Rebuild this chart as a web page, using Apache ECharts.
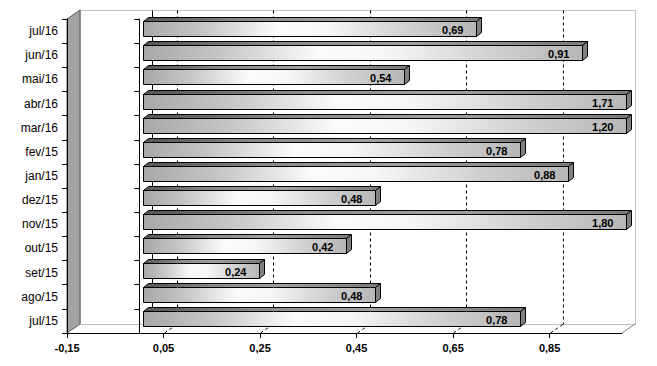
<!DOCTYPE html>
<html><head><meta charset="utf-8">
<script src="https://cdn.jsdelivr.net/npm/echarts@6/dist/echarts.min.js"></script>
<style>html,body{margin:0;padding:0;background:#fff}#c{width:657px;height:366px}</style>
</head><body><div id="c"></div>
<script>
// ---- data ----
const categories = ['jul/15','ago/15','set/15','out/15','nov/15','dez/15','jan/15','fev/15','mar/16','abr/16','mai/16','jun/16','jul/16'];
const values = [0.78,0.48,0.24,0.42,1.80,0.48,0.88,0.78,1.20,1.71,0.54,0.91,0.69];
const tickValues = [-0.15,0.05,0.25,0.45,0.65,0.85];
const gridValues = [0.05,0.25,0.45,0.65,0.85];
const axisMin = -0.15, axisMax = 1.0;

// ---- layout / style ----
const W = 657, H = 366;
const G = {left:67, top:19, right:35, bottom:33};
const DEPTH = [13,-9];
const BAR_SHIFT = [3.7,-2.5];
const BAR_DEPTH = [5,-4];
const FONT = '"Liberation Sans", Arial, sans-serif';
const fmt = v => (Math.round(v*100)/100).toFixed(2).replace('.', ',');
const r5 = v => Math.round(v) + 0.5;

const fx0 = G.left, fy0 = G.top, fx1 = W - G.right, fy1 = H - G.bottom;
const bx0 = fx0 + DEPTH[0], by0 = fy0 + DEPTH[1], bx1 = fx1 + DEPTH[0], by1 = fy1 + DEPTH[1];

const frontGrad = {type:'linear',x:0,y:0,x2:1,y2:0,colorStops:[
  {offset:0,color:'#a8a8a8'},{offset:0.18,color:'#c6c6c6'},{offset:0.4,color:'#fbfbfb'},
  {offset:0.55,color:'#f6f6f6'},{offset:0.8,color:'#cfcfcf'},{offset:1,color:'#b6b6b6'}]};
const topGrad = {type:'linear',x:0,y:0,x2:1,y2:0,colorStops:[
  {offset:0,color:'#555555'},{offset:0.3,color:'#8a8a8a'},{offset:0.6,color:'#a0a0a0'},{offset:1,color:'#7a7a7a'}]};

function renderBar(params, api) {
  const raw = api.value(0);
  const idx = api.value(1);
  const v = Math.min(raw, axisMax);
  const p0 = api.coord([0, idx]);
  const p1 = api.coord([v, idx]);
  const band = api.size([0, 1])[1];
  const h = Math.round(band * 0.64);
  const x0 = r5(p0[0] + BAR_SHIFT[0]), x1 = r5(p1[0] + BAR_SHIFT[0]);
  const yc = p0[1] + BAR_SHIFT[1];
  const yt = r5(yc - h/2), yb = yt + h;
  const dx = BAR_DEPTH[0], dy = BAR_DEPTH[1];
  return {type:'group', children:[
    {type:'polygon', shape:{points:[[x0,yt],[x0+dx,yt+dy],[x1+dx,yt+dy],[x1,yt]]}, style:{fill:topGrad, stroke:'#000', lineWidth:1}},
    {type:'polygon', shape:{points:[[x1,yt],[x1+dx,yt+dy],[x1+dx,yb+dy],[x1,yb]]}, style:{fill:'#808080', stroke:'#000', lineWidth:1}},
    {type:'rect', shape:{x:x0,y:yt,width:x1-x0,height:h}, style:{fill:frontGrad, stroke:'#000', lineWidth:1}},
    {type:'text', x:x1-13, y:(yt+yb)/2+1, style:{text:fmt(raw), align:'right', verticalAlign:'middle', font:'bold 11px '+FONT, fill:'#000'}}
  ]};
}

function renderGrid(params, api) {
  const t = api.value(0);
  const cs = params.coordSys;
  const fx = r5(api.coord([t, 0])[0]);
  const top = cs.y, bot = cs.y + cs.height;
  const solid = t === 0;
  const ls = {stroke:'#000', lineWidth:1, lineDash: solid ? null : [3,3]};
  const children = [
    {type:'line', shape:{x1:fx+DEPTH[0], y1:r5(top+DEPTH[1]), x2:fx+DEPTH[0], y2:r5(bot+DEPTH[1])}, style:ls}
  ];
  if (!solid) children.push({type:'line', shape:{x1:fx, y1:bot, x2:fx+DEPTH[0], y2:bot+DEPTH[1]}, style:ls});
  return {type:'group', children};
}

const chart = echarts.init(document.getElementById('c'), null, {renderer:'svg', width:W, height:H});
chart.setOption({
  animation:false,
  backgroundColor:'#fff',
  grid:{left:G.left, top:G.top, right:G.right, bottom:G.bottom, containLabel:false},
  xAxis:{type:'value', min:axisMin, max:axisMax, z:10,
    axisLine:{show:true, onZero:false, lineStyle:{color:'#000', width:1}},
    axisTick:{show:true, length:5, customValues:tickValues, lineStyle:{color:'#000'}},
    axisLabel:{customValues:tickValues, formatter:fmt, margin:9, color:'#000', fontFamily:FONT, fontSize:11, fontWeight:'bold'},
    splitLine:{show:false}},
  yAxis:[
    {type:'category', data:categories, position:'left', z:10,
      axisLine:{show:true, onZero:false, lineStyle:{color:'#000'}},
      axisTick:{show:true, length:5, lineStyle:{color:'#000'}},
      axisLabel:{margin:9, color:'#000', fontFamily:FONT, fontSize:12}},
    {type:'category', data:categories, position:'left', z:10,
      axisLine:{show:true, onZero:true, lineStyle:{color:'#000'}},
      axisTick:{show:true, length:5, lineStyle:{color:'#000'}},
      axisLabel:{show:false}}
  ],
  graphic:[
    {type:'polyline', z:0, shape:{points:[[r5(bx0),r5(by1)],[r5(bx0),r5(by0)],[r5(bx1),r5(by0)],[r5(bx1),r5(by1)],[r5(bx0),r5(by1)]]}, style:{stroke:'#808080', lineWidth:1, lineDash:[1,1], fill:null}},
    {type:'line', z:0, shape:{x1:fx1, y1:fy1, x2:bx1, y2:by1}, style:{stroke:'#808080', lineWidth:1}},
    {type:'polygon', z:1, shape:{points:[[fx0,fy0],[bx0,by0],[bx0,by1],[fx0,fy1]]}, style:{fill:'#a3a3a3', stroke:'#5a5a5a', lineWidth:1}}
  ],
  series:[
    {type:'custom', z:1, silent:true, coordinateSystem:'cartesian2d', yAxisIndex:0, renderItem:renderGrid,
      encode:{x:0, y:1}, data:[[0,0]].concat(gridValues.map(t => [t, 0]))},
    {type:'custom', z:3, coordinateSystem:'cartesian2d', yAxisIndex:0, renderItem:renderBar, clip:false,
      encode:{x:0, y:1}, data:values.map((v,i) => [v, i])}
  ]
});
</script></body></html>
